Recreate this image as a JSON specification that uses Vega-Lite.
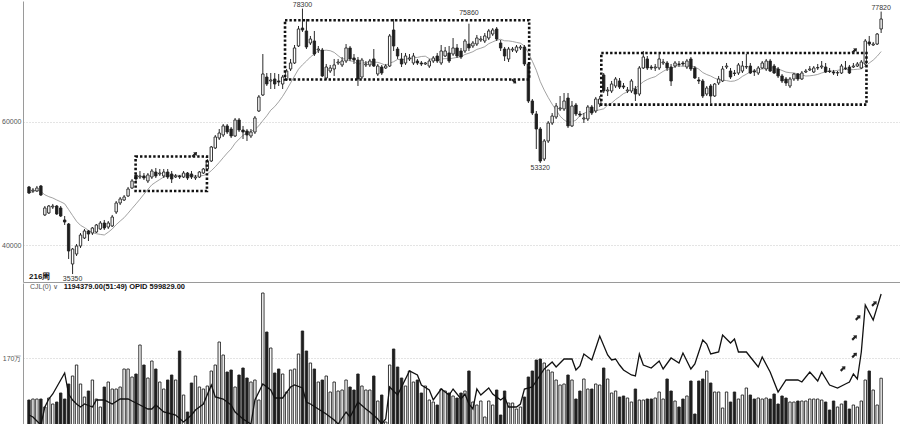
{
  "$schema": "https://vega.github.io/schema/vega-lite/v6.json",
  "background": "#ffffff",
  "padding": 0,
  "spacing": 0,
  "config": {
    "font": "Liberation Sans",
    "view": {"stroke": null},
    "axis": {"domainColor": "#9a9a9a", "domainWidth": 1, "gridColor": "#c8c8c8", "gridDash": [1, 2], "gridWidth": 1, "labelFont": "Liberation Sans", "labelFontSize": 7, "labelColor": "#555555", "ticks": false, "labelPadding": 2},
    "axisY": {"minExtent": 23, "maxExtent": 23},
    "axisX": {"minExtent": 0, "maxExtent": 0}
  },
  "datasets": {
    "weeks": [
      {"i":0,"o":49440,"h":49600,"l":48300,"c":48470,"v":650000},
      {"i":1,"o":48790,"h":49270,"l":48470,"c":48950,"v":675000},
      {"i":2,"o":48790,"h":49600,"l":48630,"c":49270,"v":675000},
      {"i":3,"o":49600,"h":49760,"l":47980,"c":48140,"v":675000},
      {"i":4,"o":44910,"h":46360,"l":44740,"c":46040,"v":475000},
      {"i":5,"o":45230,"h":46520,"l":45070,"c":46360,"v":700000},
      {"i":6,"o":46200,"h":46690,"l":45880,"c":46360,"v":550000},
      {"i":7,"o":46360,"h":46520,"l":44910,"c":45070,"v":600000},
      {"i":8,"o":46040,"h":46360,"l":44580,"c":44740,"v":825000},
      {"i":9,"o":44100,"h":44740,"l":43290,"c":43770,"v":675000},
      {"i":10,"o":43450,"h":43610,"l":37790,"c":39080,"v":1050000},
      {"i":11,"o":36980,"h":39570,"l":35350,"c":39400,"v":1250000},
      {"i":12,"o":38590,"h":40210,"l":38270,"c":39890,"v":1525000},
      {"i":13,"o":39890,"h":41990,"l":39570,"c":41670,"v":1050000},
      {"i":14,"o":41180,"h":42640,"l":41020,"c":42320,"v":725000},
      {"i":15,"o":42320,"h":42480,"l":40700,"c":41830,"v":875000},
      {"i":16,"o":41990,"h":42960,"l":41670,"c":42800,"v":1150000},
      {"i":17,"o":42150,"h":43450,"l":41990,"c":43290,"v":675000},
      {"i":18,"o":42640,"h":43930,"l":42480,"c":43610,"v":475000},
      {"i":19,"o":43610,"h":44100,"l":42480,"c":42800,"v":975000},
      {"i":20,"o":42960,"h":43930,"l":42640,"c":43610,"v":1100000},
      {"i":21,"o":43130,"h":44910,"l":42960,"c":44580,"v":925000},
      {"i":22,"o":45390,"h":47170,"l":45070,"c":46850,"v":925000},
      {"i":23,"o":46850,"h":47820,"l":46520,"c":47500,"v":975000},
      {"i":24,"o":47330,"h":48140,"l":47170,"c":47820,"v":1425000},
      {"i":25,"o":47980,"h":49440,"l":47820,"c":49110,"v":1425000},
      {"i":26,"o":49270,"h":50730,"l":49110,"c":50410,"v":1225000},
      {"i":27,"o":51380,"h":51700,"l":50410,"c":50730,"v":1300000},
      {"i":28,"o":51050,"h":52020,"l":50730,"c":51220,"v":2025000},
      {"i":29,"o":51220,"h":51700,"l":50570,"c":50890,"v":1525000},
      {"i":30,"o":50410,"h":51700,"l":50080,"c":51380,"v":1200000},
      {"i":31,"o":51050,"h":52350,"l":50730,"c":52020,"v":1625000},
      {"i":32,"o":51860,"h":52510,"l":50890,"c":51220,"v":1425000},
      {"i":33,"o":51540,"h":52350,"l":51220,"c":51700,"v":1100000},
      {"i":34,"o":51220,"h":52350,"l":50890,"c":51860,"v":925000},
      {"i":35,"o":51860,"h":52350,"l":50730,"c":51050,"v":1150000},
      {"i":36,"o":51540,"h":52020,"l":50080,"c":50730,"v":1275000},
      {"i":37,"o":51050,"h":51540,"l":50890,"c":51220,"v":1150000},
      {"i":38,"o":51220,"h":51380,"l":50730,"c":51050,"v":1875000},
      {"i":39,"o":51050,"h":52020,"l":50890,"c":51700,"v":775000},
      {"i":40,"o":51700,"h":51860,"l":50570,"c":50890,"v":350000},
      {"i":41,"o":51540,"h":52020,"l":50730,"c":51050,"v":1075000},
      {"i":42,"o":50890,"h":51380,"l":50570,"c":51050,"v":1250000},
      {"i":43,"o":51050,"h":52020,"l":50890,"c":51860,"v":975000},
      {"i":44,"o":51700,"h":52510,"l":51540,"c":52350,"v":925000},
      {"i":45,"o":52350,"h":53960,"l":52020,"c":53640,"v":1000000},
      {"i":46,"o":53640,"h":56070,"l":53480,"c":55910,"v":1375000},
      {"i":47,"o":55750,"h":57850,"l":55580,"c":57530,"v":1525000},
      {"i":48,"o":57360,"h":58820,"l":57040,"c":58170,"v":2100000},
      {"i":49,"o":57850,"h":59630,"l":57530,"c":59310,"v":1775000},
      {"i":50,"o":59310,"h":59630,"l":58010,"c":58330,"v":1350000},
      {"i":51,"o":58820,"h":59140,"l":57360,"c":57690,"v":1400000},
      {"i":52,"o":57690,"h":60600,"l":57530,"c":60280,"v":975000},
      {"i":53,"o":60280,"h":60600,"l":58330,"c":58660,"v":1275000},
      {"i":54,"o":58660,"h":59310,"l":57200,"c":58330,"v":1450000},
      {"i":55,"o":58500,"h":58820,"l":56880,"c":57850,"v":1200000},
      {"i":56,"o":57690,"h":58820,"l":57360,"c":58330,"v":1100000},
      {"i":57,"o":58330,"h":60920,"l":58010,"c":60600,"v":1150000},
      {"i":58,"o":61730,"h":64320,"l":61570,"c":64000,"v":650000},
      {"i":59,"o":64320,"h":70950,"l":64160,"c":67720,"v":3325000},
      {"i":60,"o":67230,"h":67880,"l":65780,"c":66100,"v":2350000},
      {"i":61,"o":66590,"h":67880,"l":65290,"c":66750,"v":1950000},
      {"i":62,"o":66910,"h":67880,"l":65290,"c":66100,"v":1325000},
      {"i":63,"o":66590,"h":67720,"l":65780,"c":66420,"v":1425000},
      {"i":64,"o":66100,"h":67560,"l":65290,"c":67230,"v":1300000},
      {"i":65,"o":66750,"h":68530,"l":66590,"c":68200,"v":850000},
      {"i":66,"o":68530,"h":70150,"l":68200,"c":69500,"v":1400000},
      {"i":67,"o":69500,"h":72410,"l":69340,"c":71930,"v":1425000},
      {"i":68,"o":72250,"h":75490,"l":72090,"c":75000,"v":1800000},
      {"i":69,"o":75160,"h":78300,"l":74520,"c":74840,"v":2375000},
      {"i":70,"o":74680,"h":76620,"l":71760,"c":72090,"v":1875000},
      {"i":71,"o":72730,"h":73870,"l":72410,"c":73380,"v":1575000},
      {"i":72,"o":73060,"h":74680,"l":70630,"c":70950,"v":1425000},
      {"i":73,"o":71600,"h":72250,"l":71120,"c":71760,"v":1100000},
      {"i":74,"o":71600,"h":71930,"l":67230,"c":67400,"v":1150000},
      {"i":75,"o":67070,"h":69340,"l":66750,"c":68850,"v":1250000},
      {"i":76,"o":68200,"h":69180,"l":67880,"c":68690,"v":850000},
      {"i":77,"o":68530,"h":70150,"l":67400,"c":69180,"v":1100000},
      {"i":78,"o":69500,"h":70150,"l":69180,"c":69660,"v":875000},
      {"i":79,"o":69180,"h":70470,"l":68850,"c":69820,"v":900000},
      {"i":80,"o":69820,"h":72570,"l":69500,"c":71930,"v":1150000},
      {"i":81,"o":71930,"h":72250,"l":69820,"c":70150,"v":975000},
      {"i":82,"o":70310,"h":70950,"l":69340,"c":69980,"v":900000},
      {"i":83,"o":69980,"h":70470,"l":65780,"c":66910,"v":1300000},
      {"i":84,"o":67230,"h":70310,"l":66910,"c":69980,"v":1000000},
      {"i":85,"o":69180,"h":69820,"l":68850,"c":69340,"v":900000},
      {"i":86,"o":69180,"h":70150,"l":68850,"c":69820,"v":900000},
      {"i":87,"o":70150,"h":71760,"l":68850,"c":69010,"v":1250000},
      {"i":88,"o":67720,"h":69340,"l":67400,"c":69010,"v":625000},
      {"i":89,"o":68850,"h":69180,"l":67560,"c":67880,"v":775000},
      {"i":90,"o":68690,"h":69340,"l":68530,"c":69010,"v":100000},
      {"i":91,"o":69010,"h":74190,"l":68850,"c":73870,"v":1525000},
      {"i":92,"o":74840,"h":76620,"l":71440,"c":72250,"v":1925000},
      {"i":93,"o":71760,"h":72090,"l":70150,"c":70630,"v":1475000},
      {"i":94,"o":70150,"h":71120,"l":68850,"c":69340,"v":1200000},
      {"i":95,"o":69500,"h":71120,"l":69180,"c":70630,"v":1000000},
      {"i":96,"o":70150,"h":70950,"l":69820,"c":70310,"v":1375000},
      {"i":97,"o":69500,"h":71120,"l":69180,"c":70630,"v":1100000},
      {"i":98,"o":69820,"h":70150,"l":69180,"c":69500,"v":1150000},
      {"i":99,"o":69500,"h":69820,"l":69010,"c":69340,"v":825000},
      {"i":100,"o":69340,"h":69660,"l":69180,"c":69500,"v":1000000},
      {"i":101,"o":69010,"h":70150,"l":68690,"c":69820,"v":650000},
      {"i":102,"o":69820,"h":70630,"l":69500,"c":70310,"v":600000},
      {"i":103,"o":70630,"h":71120,"l":69500,"c":69820,"v":525000},
      {"i":104,"o":69500,"h":72410,"l":69180,"c":71440,"v":925000},
      {"i":105,"o":70630,"h":72090,"l":70470,"c":71440,"v":875000},
      {"i":106,"o":71120,"h":72250,"l":69500,"c":69820,"v":825000},
      {"i":107,"o":70950,"h":73540,"l":70630,"c":71930,"v":750000},
      {"i":108,"o":71930,"h":72570,"l":70310,"c":70630,"v":700000},
      {"i":109,"o":71440,"h":71930,"l":70150,"c":70470,"v":825000},
      {"i":110,"o":71440,"h":73380,"l":71120,"c":73060,"v":875000},
      {"i":111,"o":72570,"h":75860,"l":71440,"c":71930,"v":1375000},
      {"i":112,"o":72250,"h":73060,"l":71930,"c":72730,"v":600000},
      {"i":113,"o":72570,"h":74030,"l":72250,"c":73540,"v":525000},
      {"i":114,"o":73220,"h":73870,"l":72900,"c":73380,"v":625000},
      {"i":115,"o":73060,"h":74350,"l":72730,"c":73870,"v":225000},
      {"i":116,"o":73540,"h":75000,"l":73220,"c":74680,"v":625000},
      {"i":117,"o":74190,"h":75160,"l":73870,"c":74840,"v":525000},
      {"i":118,"o":75000,"h":75320,"l":73060,"c":73380,"v":900000},
      {"i":119,"o":72730,"h":73220,"l":71440,"c":71930,"v":275000},
      {"i":120,"o":71760,"h":72090,"l":69820,"c":70630,"v":875000},
      {"i":121,"o":70150,"h":72090,"l":69660,"c":71760,"v":575000},
      {"i":122,"o":71600,"h":72090,"l":71280,"c":71760,"v":575000},
      {"i":123,"o":71440,"h":72410,"l":71120,"c":72090,"v":425000},
      {"i":124,"o":71930,"h":72410,"l":71600,"c":72090,"v":475000},
      {"i":125,"o":72090,"h":72410,"l":69010,"c":69340,"v":725000},
      {"i":126,"o":69340,"h":69660,"l":63030,"c":63350,"v":1225000},
      {"i":127,"o":63350,"h":63670,"l":61080,"c":61410,"v":1375000},
      {"i":128,"o":61250,"h":61730,"l":55580,"c":58820,"v":1650000},
      {"i":129,"o":58820,"h":59140,"l":53320,"c":53640,"v":1675000},
      {"i":130,"o":53960,"h":57200,"l":53640,"c":56880,"v":1575000},
      {"i":131,"o":56880,"h":60110,"l":56560,"c":59790,"v":1400000},
      {"i":132,"o":59790,"h":61410,"l":59470,"c":60920,"v":1350000},
      {"i":133,"o":60760,"h":63030,"l":60440,"c":62540,"v":1150000},
      {"i":134,"o":62060,"h":64160,"l":61730,"c":62220,"v":1025000},
      {"i":135,"o":62060,"h":64640,"l":61730,"c":63350,"v":1050000},
      {"i":136,"o":63830,"h":64640,"l":58980,"c":59310,"v":1275000},
      {"i":137,"o":59310,"h":63350,"l":59140,"c":62540,"v":1150000},
      {"i":138,"o":62700,"h":63030,"l":60920,"c":61250,"v":675000},
      {"i":139,"o":61250,"h":61730,"l":60760,"c":61080,"v":875000},
      {"i":140,"o":60440,"h":61410,"l":59790,"c":60600,"v":1175000},
      {"i":141,"o":60440,"h":62700,"l":60110,"c":62380,"v":925000},
      {"i":142,"o":62380,"h":62700,"l":61080,"c":61410,"v":925000},
      {"i":143,"o":61730,"h":64000,"l":61410,"c":63670,"v":1050000},
      {"i":144,"o":62870,"h":64160,"l":62380,"c":63670,"v":1025000},
      {"i":145,"o":67560,"h":67880,"l":64640,"c":64970,"v":1450000},
      {"i":146,"o":64970,"h":65610,"l":64160,"c":65130,"v":1175000},
      {"i":147,"o":64970,"h":66590,"l":64640,"c":66100,"v":825000},
      {"i":148,"o":65780,"h":67230,"l":65450,"c":66910,"v":875000},
      {"i":149,"o":66590,"h":67070,"l":65290,"c":65610,"v":725000},
      {"i":150,"o":65780,"h":66260,"l":65290,"c":65610,"v":750000},
      {"i":151,"o":64970,"h":65610,"l":64640,"c":65130,"v":700000},
      {"i":152,"o":64970,"h":66910,"l":64640,"c":66590,"v":600000},
      {"i":153,"o":65290,"h":65780,"l":63350,"c":64480,"v":925000},
      {"i":154,"o":64480,"h":69010,"l":64160,"c":68690,"v":650000},
      {"i":155,"o":68690,"h":71440,"l":68530,"c":70470,"v":650000},
      {"i":156,"o":70150,"h":70630,"l":68370,"c":68690,"v":675000},
      {"i":157,"o":68850,"h":69180,"l":68370,"c":68690,"v":675000},
      {"i":158,"o":68690,"h":69340,"l":68200,"c":68850,"v":700000},
      {"i":159,"o":68690,"h":70950,"l":68370,"c":70150,"v":850000},
      {"i":160,"o":69500,"h":70150,"l":69180,"c":69660,"v":675000},
      {"i":161,"o":69500,"h":69820,"l":68200,"c":68690,"v":1175000},
      {"i":162,"o":68850,"h":69340,"l":65780,"c":66590,"v":875000},
      {"i":163,"o":69010,"h":69820,"l":68690,"c":69500,"v":625000},
      {"i":164,"o":69340,"h":69820,"l":68850,"c":69260,"v":475000},
      {"i":165,"o":69500,"h":69820,"l":69010,"c":69340,"v":675000},
      {"i":166,"o":68850,"h":70150,"l":68530,"c":69820,"v":750000},
      {"i":167,"o":70150,"h":70470,"l":68200,"c":68530,"v":1125000},
      {"i":168,"o":68690,"h":69010,"l":66910,"c":67070,"v":300000},
      {"i":169,"o":66750,"h":67230,"l":66100,"c":66590,"v":1125000},
      {"i":170,"o":66590,"h":66910,"l":63830,"c":64160,"v":1175000},
      {"i":171,"o":64480,"h":65780,"l":64160,"c":65450,"v":1375000},
      {"i":172,"o":65780,"h":66100,"l":63030,"c":64160,"v":1075000},
      {"i":173,"o":64160,"h":66260,"l":64000,"c":66100,"v":850000},
      {"i":174,"o":66260,"h":67400,"l":65940,"c":66910,"v":850000},
      {"i":175,"o":66590,"h":69010,"l":66420,"c":68530,"v":450000},
      {"i":176,"o":68850,"h":69500,"l":68530,"c":69010,"v":850000},
      {"i":177,"o":68200,"h":68690,"l":66910,"c":67230,"v":600000},
      {"i":178,"o":67880,"h":68370,"l":67400,"c":67800,"v":850000},
      {"i":179,"o":67880,"h":69500,"l":67560,"c":69180,"v":675000},
      {"i":180,"o":68200,"h":69820,"l":67880,"c":69010,"v":775000},
      {"i":181,"o":68850,"h":70950,"l":68530,"c":68930,"v":950000},
      {"i":182,"o":69010,"h":69500,"l":67720,"c":67880,"v":775000},
      {"i":183,"o":68200,"h":68530,"l":67400,"c":68040,"v":675000},
      {"i":184,"o":67880,"h":69010,"l":67560,"c":68690,"v":700000},
      {"i":185,"o":68690,"h":69820,"l":68530,"c":69500,"v":675000},
      {"i":186,"o":68530,"h":70150,"l":68200,"c":69820,"v":700000},
      {"i":187,"o":69820,"h":70150,"l":68040,"c":68200,"v":675000},
      {"i":188,"o":69010,"h":69340,"l":67720,"c":67880,"v":800000},
      {"i":189,"o":68530,"h":68850,"l":67070,"c":67400,"v":550000},
      {"i":190,"o":67400,"h":67720,"l":66260,"c":66590,"v":750000},
      {"i":191,"o":66910,"h":67230,"l":65780,"c":66260,"v":700000},
      {"i":192,"o":65780,"h":67230,"l":65450,"c":66910,"v":600000},
      {"i":193,"o":66910,"h":67880,"l":66590,"c":67720,"v":600000},
      {"i":194,"o":67720,"h":67880,"l":66590,"c":66910,"v":625000},
      {"i":195,"o":66910,"h":68200,"l":66750,"c":67880,"v":625000},
      {"i":196,"o":68040,"h":68530,"l":67880,"c":68200,"v":625000},
      {"i":197,"o":68370,"h":69010,"l":68200,"c":68530,"v":675000},
      {"i":198,"o":68040,"h":69010,"l":67880,"c":68690,"v":675000},
      {"i":199,"o":68690,"h":69340,"l":68370,"c":68770,"v":675000},
      {"i":200,"o":68850,"h":69820,"l":68530,"c":69010,"v":650000},
      {"i":201,"o":68850,"h":69500,"l":67880,"c":68040,"v":600000},
      {"i":202,"o":68200,"h":68690,"l":67880,"c":68120,"v":400000},
      {"i":203,"o":68040,"h":68370,"l":67560,"c":67880,"v":625000},
      {"i":204,"o":67880,"h":68200,"l":67400,"c":67950,"v":475000},
      {"i":205,"o":67880,"h":69340,"l":67720,"c":69010,"v":550000},
      {"i":206,"o":68690,"h":69820,"l":68370,"c":68610,"v":625000},
      {"i":207,"o":68850,"h":69180,"l":67720,"c":67880,"v":425000},
      {"i":208,"o":68850,"h":69500,"l":68690,"c":69010,"v":525000},
      {"i":209,"o":69010,"h":69660,"l":68850,"c":69340,"v":475000},
      {"i":210,"o":68690,"h":69980,"l":68530,"c":69660,"v":625000},
      {"i":211,"o":69340,"h":73380,"l":69180,"c":73060,"v":1150000},
      {"i":212,"o":72900,"h":73870,"l":72250,"c":72570,"v":1375000},
      {"i":213,"o":72410,"h":72900,"l":72250,"c":72570,"v":900000},
      {"i":214,"o":72570,"h":74350,"l":72410,"c":74190,"v":525000},
      {"i":215,"o":75000,"h":77820,"l":74350,"c":76620,"v":1194379}
    ],
    "opi": [
      {"i":0,"opi":176500},{"i":1,"opi":169500},{"i":3,"opi":141500},{"i":4,"opi":204500},{"i":5,"opi":232500},
      {"i":6,"opi":250000},{"i":8,"opi":299000},{"i":9,"opi":323500},{"i":10,"opi":250000},{"i":11,"opi":229000},
      {"i":12,"opi":215000},{"i":13,"opi":204500},{"i":14,"opi":215000},{"i":16,"opi":204500},{"i":17,"opi":229000},
      {"i":19,"opi":229000},{"i":21,"opi":215000},{"i":23,"opi":232500},{"i":25,"opi":232500},{"i":26,"opi":225500},
      {"i":28,"opi":211500},{"i":30,"opi":197500},{"i":31,"opi":197500},{"i":32,"opi":211500},{"i":34,"opi":187000},
      {"i":36,"opi":180000},{"i":37,"opi":176500},{"i":39,"opi":152000},{"i":41,"opi":176500},{"i":42,"opi":194000},
      {"i":44,"opi":215000},{"i":46,"opi":281500},{"i":47,"opi":239500},{"i":49,"opi":232500},{"i":51,"opi":211500},
      {"i":52,"opi":187000},{"i":54,"opi":162500},{"i":56,"opi":145000},{"i":57,"opi":229000},{"i":59,"opi":285000},
      {"i":61,"opi":264000},{"i":62,"opi":236000},{"i":64,"opi":236000},{"i":66,"opi":274500},{"i":67,"opi":281500},
      {"i":69,"opi":271000},{"i":70,"opi":222000},{"i":71,"opi":215000},{"i":73,"opi":197500},{"i":75,"opi":180000},
      {"i":77,"opi":159000},{"i":78,"opi":145000},{"i":80,"opi":187000},{"i":81,"opi":169500},{"i":83,"opi":222000},
      {"i":85,"opi":197500},{"i":86,"opi":187000},{"i":88,"opi":162500},{"i":89,"opi":145000},{"i":90,"opi":162500},
      {"i":91,"opi":274500},{"i":93,"opi":246500},{"i":94,"opi":274500},{"i":96,"opi":330500},{"i":98,"opi":316500},
      {"i":99,"opi":281500},{"i":101,"opi":264000},{"i":102,"opi":229000},{"i":104,"opi":267500},{"i":106,"opi":246500},
      {"i":107,"opi":267500},{"i":109,"opi":232500},{"i":110,"opi":250000},{"i":111,"opi":215000},{"i":112,"opi":197500},
      {"i":113,"opi":267500},{"i":114,"opi":246500},{"i":116,"opi":271000},{"i":117,"opi":250000},{"i":119,"opi":229000},
      {"i":120,"opi":239500},{"i":121,"opi":204500},{"i":123,"opi":204500},{"i":124,"opi":215000},{"i":125,"opi":267500},
      {"i":127,"opi":274500},{"i":129,"opi":316500},{"i":130,"opi":337500},{"i":132,"opi":362000},{"i":133,"opi":344500},
      {"i":135,"opi":372500},{"i":137,"opi":372500},{"i":138,"opi":334000},{"i":139,"opi":348000},{"i":140,"opi":390000},
      {"i":142,"opi":369000},{"i":143,"opi":411000},{"i":144,"opi":453000},{"i":146,"opi":386500},{"i":147,"opi":369000},
      {"i":148,"opi":372500},{"i":149,"opi":351500},{"i":150,"opi":334000},{"i":152,"opi":316500},{"i":153,"opi":313000},
      {"i":154,"opi":390000},{"i":155,"opi":351500},{"i":157,"opi":341000},{"i":159,"opi":365500},{"i":160,"opi":337500},
      {"i":162,"opi":376000},{"i":164,"opi":358500},{"i":165,"opi":393500},{"i":167,"opi":337500},{"i":168,"opi":355000},
      {"i":170,"opi":439000},{"i":171,"opi":425000},{"i":172,"opi":390000},{"i":174,"opi":397000},{"i":175,"opi":456500},
      {"i":177,"opi":428500},{"i":178,"opi":442500},{"i":179,"opi":397000},{"i":181,"opi":397000},{"i":182,"opi":379500},
      {"i":184,"opi":344500},{"i":185,"opi":379500},{"i":187,"opi":327000},{"i":189,"opi":257000},{"i":191,"opi":299000},
      {"i":194,"opi":299000},{"i":195,"opi":292000},{"i":197,"opi":327000},{"i":199,"opi":295500},{"i":200,"opi":327000},
      {"i":202,"opi":281500},{"i":204,"opi":271000},{"i":206,"opi":285000},{"i":207,"opi":292000},{"i":208,"opi":320000},
      {"i":209,"opi":302500},{"i":210,"opi":397000},{"i":211,"opi":561500},{"i":213,"opi":509000},{"i":214,"opi":554000},
      {"i":215,"opi":599829}
    ],
    "boxes": [
      {"x0":26.9,"x1":44.9,"lo":48780,"hi":54360},
      {"x0":64.6,"x1":126.2,"lo":66830,"hi":76420},
      {"x0":144.4,"x1":211.3,"lo":62770,"hi":71110}
    ],
    "notes": [
      {"i":69,"p":78300,"t":"78300","side":"high"},
      {"i":111,"p":75860,"t":"75860","side":"over"},
      {"i":215,"p":77820,"t":"77820","side":"high"},
      {"i":129,"p":53320,"t":"53320","side":"low"},
      {"i":11,"p":35350,"t":"35350","side":"low"}
    ],
    "pointers": [
      {"i":41.8,"p":54700,"dir":"up"},
      {"i":208.3,"p":71520,"dir":"up"},
      {"i":122.4,"p":66500,"dir":"down"}
    ],
    "volPointers": [
      {"i":205.4,"v":1437500},
      {"i":208.3,"v":1775000},
      {"i":208.3,"v":2212500},
      {"i":209.2,"v":2712500},
      {"i":213.3,"v":3062500}
    ],
    "captions": [
      {"kind":"span","text":"216周"},
      {"kind":"name","text":"CJL(0) ∨"},
      {"kind":"value","text":"1194379.00(51:49)  OPID 599829.00"}
    ]
  },
  "vconcat": [
    {
      "width": 877,
      "height": 281,
      "layer": [
        {
          "data": {"name": "weeks"},
          "transform": [{"window": [{"op": "mean", "field": "c", "as": "ma"}], "frame": [-9, 0], "sort": [{"field": "i", "order": "ascending"}]}],
          "mark": {"type": "line", "color": "#8a8a8a", "strokeWidth": 0.8},
          "encoding": {
            "x": {"field": "i", "type": "quantitative", "title": null, "scale": {"domain": [-0.25, 218.5], "nice": false, "zero": false}, "axis": {"labels": false, "ticks": false, "grid": false, "domain": true}},
            "y": {"field": "ma", "type": "quantitative", "title": null, "scale": {"domain": [34064, 79530], "nice": false, "zero": false}, "axis": {"values": [40000, 60000], "format": "d", "grid": true}}
          }
        },
        {
          "data": {"name": "weeks"},
          "mark": {"type": "rule", "color": "#2a2a2a", "strokeWidth": 1},
          "encoding": {
            "x": {"field": "i", "type": "quantitative", "title": null},
            "y": {"field": "l", "type": "quantitative", "title": null},
            "y2": {"field": "h"}
          }
        },
        {
          "data": {"name": "weeks"},
          "mark": {"type": "bar", "orient": "vertical", "width": 2.4, "stroke": "#222222", "strokeWidth": 0.9},
          "encoding": {
            "x": {"field": "i", "type": "quantitative", "title": null},
            "y": {"field": "o", "type": "quantitative", "title": null},
            "y2": {"field": "c"},
            "fill": {"condition": {"test": "datum.c >= datum.o", "value": "#ffffff"}, "value": "#1e1e1e"}
          }
        },
        {
          "data": {"name": "boxes"},
          "mark": {"type": "rect", "fillOpacity": 0, "stroke": "#111111", "strokeWidth": 2.6, "strokeDash": [2.4, 2]},
          "encoding": {
            "x": {"field": "x0", "type": "quantitative", "title": null},
            "x2": {"field": "x1"},
            "y": {"field": "lo", "type": "quantitative", "title": null},
            "y2": {"field": "hi"}
          }
        },
        {
          "data": {"name": "notes"},
          "transform": [{"filter": "datum.side === 'high'"}],
          "mark": {"type": "text", "baseline": "bottom", "dy": -1, "fontSize": 7, "color": "#333333"},
          "encoding": {
            "x": {"field": "i", "type": "quantitative", "title": null},
            "y": {"field": "p", "type": "quantitative", "title": null},
            "text": {"field": "t"}
          }
        },
        {
          "data": {"name": "notes"},
          "transform": [{"filter": "datum.side === 'over'"}],
          "mark": {"type": "text", "baseline": "bottom", "dy": -8, "fontSize": 7, "color": "#333333"},
          "encoding": {
            "x": {"field": "i", "type": "quantitative", "title": null},
            "y": {"field": "p", "type": "quantitative", "title": null},
            "text": {"field": "t"}
          }
        },
        {
          "data": {"name": "notes"},
          "transform": [{"filter": "datum.side === 'low'"}],
          "mark": {"type": "text", "baseline": "top", "dy": 1, "fontSize": 7, "color": "#333333"},
          "encoding": {
            "x": {"field": "i", "type": "quantitative", "title": null},
            "y": {"field": "p", "type": "quantitative", "title": null},
            "text": {"field": "t"}
          }
        },
        {
          "data": {"name": "pointers"},
          "transform": [{"filter": "datum.dir === 'up'"}],
          "mark": {"type": "point", "shape": "M-0.32,1L0.32,1L0.32,-0.1L0.75,-0.1L0,-1L-0.75,-0.1L-0.32,-0.1Z", "filled": true, "color": "#222222", "opacity": 1, "size": 45, "angle": 45},
          "encoding": {
            "x": {"field": "i", "type": "quantitative", "title": null},
            "y": {"field": "p", "type": "quantitative", "title": null}
          }
        },
        {
          "data": {"name": "pointers"},
          "transform": [{"filter": "datum.dir === 'down'"}],
          "mark": {"type": "point", "shape": "M-0.32,1L0.32,1L0.32,-0.1L0.75,-0.1L0,-1L-0.75,-0.1L-0.32,-0.1Z", "filled": true, "color": "#222222", "opacity": 1, "size": 35, "angle": 135},
          "encoding": {
            "x": {"field": "i", "type": "quantitative", "title": null},
            "y": {"field": "p", "type": "quantitative", "title": null}
          }
        },
        {
          "data": {"name": "captions"},
          "transform": [{"filter": "datum.kind === 'span'"}],
          "mark": {"type": "text", "align": "left", "baseline": "middle", "dx": 1, "fontSize": 8, "fontWeight": "bold", "color": "#111111"},
          "encoding": {
            "x": {"datum": -0.25, "type": "quantitative"},
            "y": {"datum": 34900, "type": "quantitative"},
            "text": {"field": "text"}
          }
        }
      ]
    },
    {
      "width": 877,
      "height": 143,
      "layer": [
        {
          "layer": [
            {
              "data": {"name": "weeks"},
              "mark": {"type": "bar", "orient": "vertical", "width": 2.4, "stroke": "#222222", "strokeWidth": 0.9},
              "encoding": {
                "x": {"field": "i", "type": "quantitative", "title": null, "scale": {"domain": [-0.25, 218.5], "nice": false, "zero": false}, "axis": null},
                "y": {"field": "v", "type": "quantitative", "title": null, "stack": null, "scale": {"domain": [0, 3575000], "nice": false}, "axis": {"values": [1700000], "labelExpr": "format(datum.value / 10000, 'd') + '万'", "grid": true, "domain": true}},
                "fill": {"condition": {"test": "datum.c >= datum.o", "value": "#ffffff"}, "value": "#1e1e1e"}
              }
            },
            {
              "data": {"name": "volPointers"},
              "mark": {"type": "point", "shape": "M-0.32,1L0.32,1L0.32,-0.1L0.75,-0.1L0,-1L-0.75,-0.1L-0.32,-0.1Z", "filled": true, "color": "#222222", "opacity": 1, "size": 45, "angle": 45},
              "encoding": {
                "x": {"field": "i", "type": "quantitative", "title": null},
                "y": {"field": "v", "type": "quantitative", "title": null}
              }
            },
            {
              "data": {"name": "captions"},
              "transform": [{"filter": "datum.kind === 'name'"}],
              "mark": {"type": "text", "align": "left", "baseline": "middle", "dx": 2, "fontSize": 7, "color": "#555555"},
              "encoding": {
                "x": {"datum": -0.25, "type": "quantitative"},
                "y": {"datum": 3475000, "type": "quantitative"},
                "text": {"field": "text"}
              }
            },
            {
              "data": {"name": "captions"},
              "transform": [{"filter": "datum.kind === 'value'"}],
              "mark": {"type": "text", "align": "left", "baseline": "middle", "dx": 1, "fontSize": 7.5, "fontWeight": "bold", "color": "#111111"},
              "encoding": {
                "x": {"datum": 8.5, "type": "quantitative"},
                "y": {"datum": 3475000, "type": "quantitative"},
                "text": {"field": "text"}
              }
            }
          ]
        },
        {
          "data": {"name": "opi"},
          "mark": {"type": "line", "color": "#111111", "strokeWidth": 1.3},
          "encoding": {
            "x": {"field": "i", "type": "quantitative", "title": null, "scale": {"domain": [-0.25, 218.5], "nice": false, "zero": false}, "axis": null},
            "y": {"field": "opi", "type": "quantitative", "title": null, "scale": {"domain": [138000, 638500], "nice": false, "zero": false}, "axis": null}
          }
        }
      ],
      "resolve": {"scale": {"y": "independent"}}
    }
  ]
}
